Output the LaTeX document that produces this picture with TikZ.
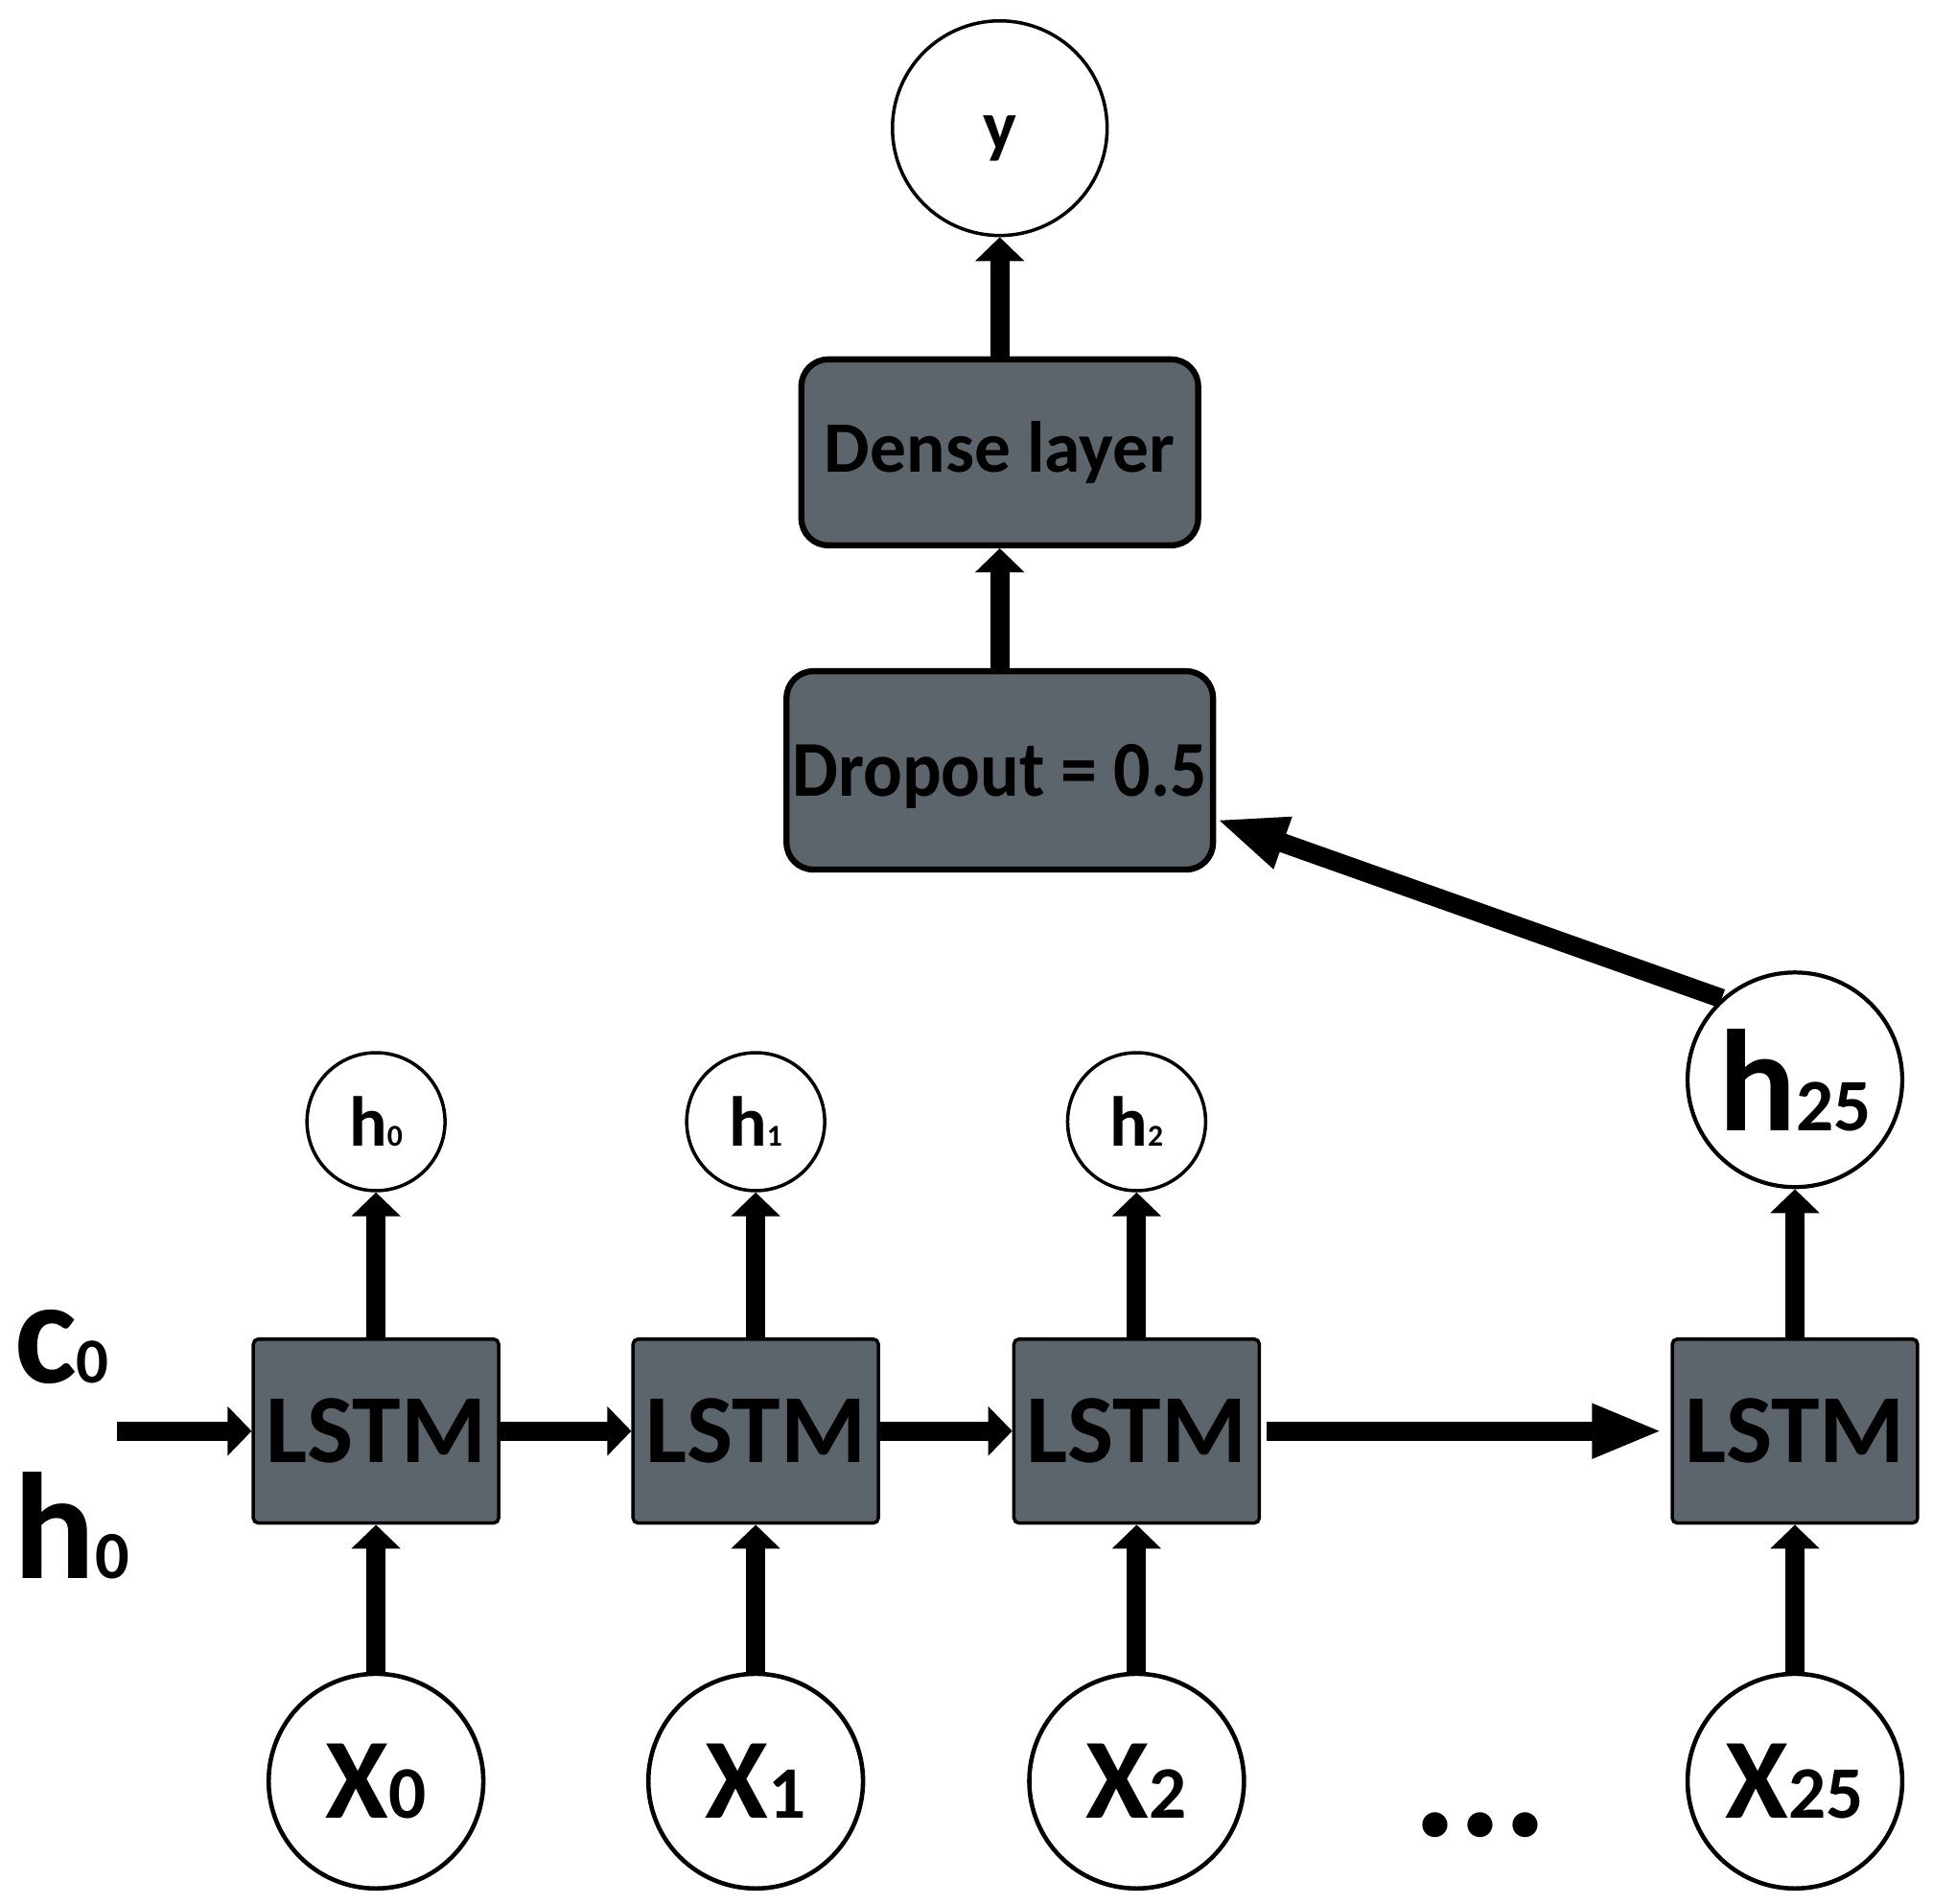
\documentclass[tikz,border=0pt]{standalone}
\usepackage{xcolor}
\usepackage{graphicx}
\usepackage{tikz}
\usepackage{fontspec}
\setmainfont{Carlito}
\usetikzlibrary{arrows.meta}

\definecolor{cellgrey}{RGB}{92,100,108}
\newcommand\fsz[1]{\fontsize{#1}{#1}\selectfont}

\tikzset{
	cell/.style={draw, fill=cellgrey, line width=1pt, rounded corners=1.5pt, minimum width=2.56cm, minimum height=1.92cm, inner sep=0pt, font=\bfseries\fsz{29}},
	layer/.style={draw, fill=cellgrey, line width=1.8pt, rounded corners=0.28cm, inner sep=0pt, font=\bfseries},
	state/.style={circle, draw, line width=1pt, inner sep=0pt, font=\bfseries},
	flow/.style={line width=5.7pt, -{Triangle[length=0.25cm, width=0.5cm]}},
	bigflow/.style={line width=5.7pt, -{Triangle[length=0.74cm, width=0.52cm]}},
}

\begin{document}
\begin{tikzpicture}[x=0.01286cm, y=-0.01286cm]
	\newcommand\rowh{910}
	\newcommand\rowl{1161}
	\newcommand\rowx{1445}

	\useasboundingbox (0,0) rectangle (1568,1544.3);

	\node[state, minimum size=2.24cm, text height=0.45cm, text depth=0pt] (y) at (811,104) {\fsz{21}y};
	\node[layer, minimum width=4.14cm, minimum height=1.94cm] (dense) at (811,367) {\fsz{21.5}Dense layer};
	\node[layer, minimum width=4.45cm, minimum height=2.07cm, text depth=0pt] (drop) at (811,625) {\fsz{23.5}\scalebox{0.92}[1]{Dropout = 0.5}};

	\node[state, minimum size=1.44cm] (h0) at (305,\rowh) {\fsz{21}h\fsz{9}0};
	\node[state, minimum size=1.44cm] (h1) at (613,\rowh) {\fsz{21}h\fsz{9}1};
	\node[state, minimum size=1.44cm] (h2) at (922,\rowh) {\fsz{21}h\fsz{9}2};
	\node[state, minimum size=2.24cm, line width=1.2pt] (h25) at (1456,876) {\fsz{43}h\fsz{22}25};

	\node[cell] (l0) at (305,\rowl) {LSTM};
	\node[cell] (l1) at (613,\rowl) {LSTM};
	\node[cell] (l2) at (922,\rowl) {LSTM};
	\node[cell] (l25) at (1456,\rowl) {LSTM};

	\node[state, minimum size=2.24cm, line width=1.3pt] (x0) at (305,\rowx) {\fsz{34}X\fsz{22}0};
	\node[state, minimum size=2.24cm, line width=1.3pt] (x1) at (613,\rowx) {\fsz{34}X\fsz{22}1};
	\node[state, minimum size=2.24cm, line width=1.3pt] (x2) at (922,\rowx) {\fsz{34}X\fsz{22}2};
	\node[state, minimum size=2.24cm, line width=1.3pt] (x25) at (1456,\rowx) {\fsz{34}X\fsz{22}25};

	\node[font=\bfseries] (clbl) at (50,1093) {\fsz{44}c\fsz{19}0};
	\node[font=\bfseries] (hlbl) at (58,1238) {\fsz{45}h\fsz{20}0};
	\node[font=\bfseries, anchor=base] (dots) at (1201,1490) {\fsz{50}...};

	\coordinate (in) at (95,\rowl);

	\draw[flow] (in) -- (l0);
	\draw[flow] (l0) -- (l1);
	\draw[flow] (l1) -- (l2);
	\draw[bigflow, shorten <=0.06cm, shorten >=0.08cm] (l2) -- (l25);

	\draw[flow] (x0) -- (l0);
	\draw[flow] (x1) -- (l1);
	\draw[flow] (x2) -- (l2);
	\draw[flow] (x25) -- (l25);

	\draw[flow] (l0) -- (h0);
	\draw[flow] (l1) -- (h1);
	\draw[flow] (l2) -- (h2);
	\draw[flow] (l25) -- (h25);

	\draw[bigflow] (h25.132) -- ([yshift=-0.51cm]drop.east);
	\draw[flow] (drop) -- (dense);
	\draw[flow] (dense) -- (y);

\end{tikzpicture}
\end{document}
